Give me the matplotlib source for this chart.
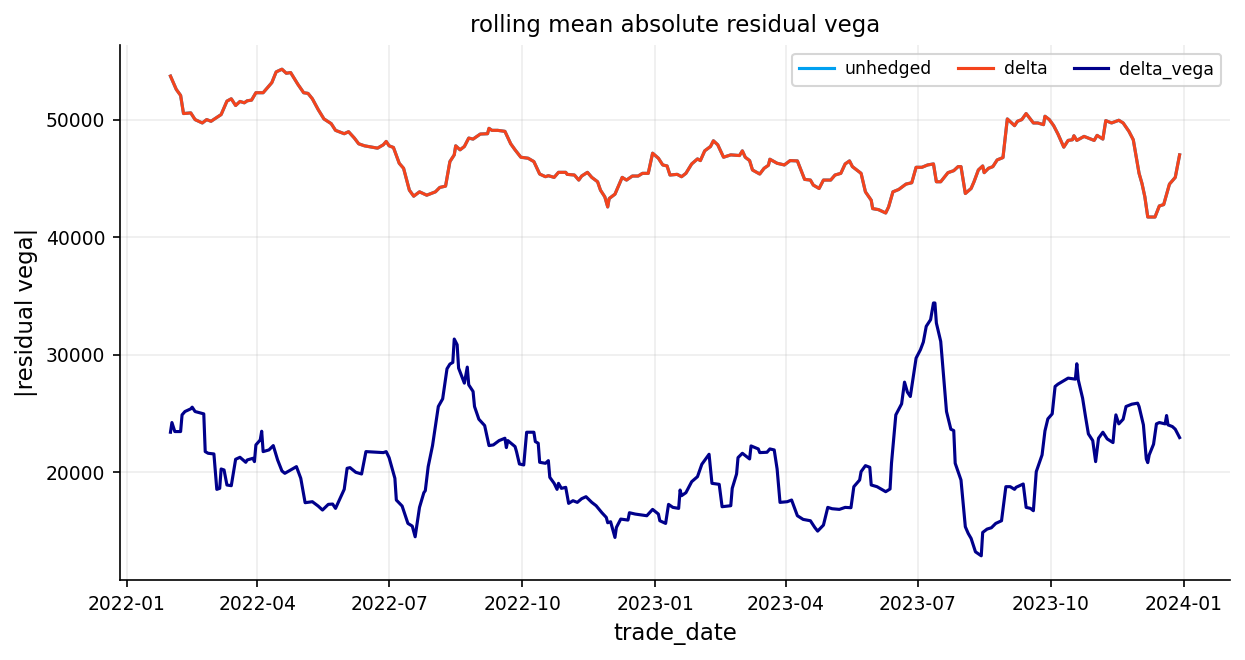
import matplotlib
matplotlib.use("Agg")
import matplotlib.pyplot as plt
import pandas as pd

# residual vega, delta hedged (unhedged sits under it, same values)
delta_dates = ["2022-01-31","2022-02-04","2022-02-07","2022-02-09","2022-02-14","2022-02-17","2022-02-22","2022-02-25",
	"2022-02-28","2022-03-07","2022-03-11","2022-03-14","2022-03-17","2022-03-20","2022-03-23","2022-03-25","2022-03-28",
	"2022-03-31","2022-04-05","2022-04-11","2022-04-14","2022-04-18","2022-04-21","2022-04-24","2022-04-29","2022-05-03",
	"2022-05-06","2022-05-09","2022-05-13","2022-05-17","2022-05-22","2022-05-25","2022-05-31","2022-06-03","2022-06-07",
	"2022-06-10","2022-06-14","2022-06-23","2022-06-27","2022-06-29","2022-07-01","2022-07-04","2022-07-08","2022-07-11",
	"2022-07-15","2022-07-18","2022-07-22","2022-07-27","2022-08-02","2022-08-05","2022-08-09","2022-08-12","2022-08-15",
	"2022-08-16","2022-08-19","2022-08-22","2022-08-25","2022-08-28","2022-09-02","2022-09-07","2022-09-08","2022-09-10",
	"2022-09-14","2022-09-19","2022-09-23","2022-09-26","2022-09-30","2022-10-05","2022-10-09","2022-10-13","2022-10-17",
	"2022-10-19","2022-10-23","2022-10-26","2022-10-31","2022-11-01","2022-11-06","2022-11-09","2022-11-11","2022-11-15",
	"2022-11-18","2022-11-22","2022-11-24","2022-11-27","2022-11-29","2022-11-30","2022-12-04","2022-12-09","2022-12-12",
	"2022-12-16","2022-12-20","2022-12-23","2022-12-27","2022-12-30","2023-01-03","2023-01-06","2023-01-09","2023-01-11",
	"2023-01-16","2023-01-19","2023-01-22","2023-01-26","2023-01-30","2023-02-01","2023-02-04","2023-02-08","2023-02-10",
	"2023-02-13","2023-02-17","2023-02-22","2023-02-28","2023-03-02","2023-03-04","2023-03-07","2023-03-09","2023-03-14",
	"2023-03-17","2023-03-20","2023-03-21","2023-03-26","2023-03-31","2023-04-04","2023-04-09","2023-04-14","2023-04-18",
	"2023-04-20","2023-04-24","2023-04-27","2023-05-02","2023-05-05","2023-05-09","2023-05-12","2023-05-15","2023-05-17",
	"2023-05-23","2023-05-26","2023-05-30","2023-05-31","2023-06-04","2023-06-09","2023-06-11","2023-06-14","2023-06-18",
	"2023-06-23","2023-06-27","2023-06-30","2023-07-04","2023-07-08","2023-07-12","2023-07-14","2023-07-17","2023-07-22",
	"2023-07-26","2023-07-29","2023-07-31","2023-08-03","2023-08-07","2023-08-09","2023-08-12","2023-08-15","2023-08-16",
	"2023-08-19","2023-08-22","2023-08-25","2023-08-29","2023-09-01","2023-09-06","2023-09-08","2023-09-11","2023-09-14",
	"2023-09-19","2023-09-22","2023-09-26","2023-09-27","2023-09-30","2023-10-03","2023-10-06","2023-10-10","2023-10-13",
	"2023-10-16","2023-10-17","2023-10-19","2023-10-24","2023-10-31","2023-11-02","2023-11-06","2023-11-08","2023-11-12",
	"2023-11-17","2023-11-20","2023-11-24","2023-11-27","2023-11-29","2023-12-01","2023-12-03","2023-12-05","2023-12-07",
	"2023-12-12","2023-12-15","2023-12-18","2023-12-22","2023-12-26","2023-12-29"]
delta_vals = [53700,52571,52057,50514,50571,50000,49714,50000,
	49857,50429,51571,51771,51200,51543,51429,51600,51657,
	52286,52286,53143,54057,54286,53943,54000,53000,52286,
	52229,51771,50857,50057,49657,49086,48800,48971,48429,
	47943,47771,47571,47857,48143,47771,47629,46286,45857,
	44000,43486,43857,43571,43857,44229,44343,46429,47000,
	47771,47429,47714,48429,48343,48771,48800,49257,49086,
	49086,49000,47943,47429,46800,46714,46429,45371,45143,
	45229,45086,45514,45514,45343,45286,44857,45200,45514,
	45086,44714,44000,43429,42571,43286,43657,45086,44857,
	45200,45200,45429,45429,47143,46714,46143,46057,45286,
	45343,45143,45429,46229,46657,46514,47343,47714,48200,
	47857,46800,47000,46943,47343,46800,46514,45714,45371,
	45857,46114,46629,46286,46143,46514,46486,44914,44857,
	44429,44143,44857,44857,45286,45429,46229,46486,46000,
	45429,43857,43143,42429,42343,42057,42571,43857,44057,
	44514,44629,45943,45943,46143,46229,44714,44714,45486,
	45657,46000,46000,43714,44143,44714,45714,46057,45486,
	45857,46000,46571,46771,50057,49486,49857,50000,50514,
	49714,49714,49571,50286,50000,49486,48771,47657,48229,
	48286,48629,48229,48571,48229,48657,48343,49914,49714,
	49943,49714,49000,48286,46857,45429,44571,43429,41714,
	41714,42657,42771,44514,45086,47000]

vega_dates = ["2022-01-31","2022-02-01","2022-02-03","2022-02-07","2022-02-08","2022-02-10","2022-02-14","2022-02-15",
	"2022-02-17","2022-02-23","2022-02-24","2022-02-26","2022-03-02","2022-03-04","2022-03-06","2022-03-07","2022-03-09",
	"2022-03-11","2022-03-14","2022-03-17","2022-03-20","2022-03-24","2022-03-25","2022-03-29","2022-03-30","2022-03-31",
	"2022-04-03","2022-04-04","2022-04-05","2022-04-09","2022-04-12","2022-04-15","2022-04-18","2022-04-20","2022-04-24",
	"2022-04-28","2022-05-01","2022-05-04","2022-05-09","2022-05-13","2022-05-16","2022-05-20","2022-05-23","2022-05-25",
	"2022-05-31","2022-06-02","2022-06-04","2022-06-08","2022-06-12","2022-06-15","2022-06-23","2022-06-27","2022-06-29",
	"2022-07-01","2022-07-05","2022-07-06","2022-07-10","2022-07-14","2022-07-17","2022-07-19","2022-07-22","2022-07-25",
	"2022-07-26","2022-07-28","2022-07-31","2022-08-04","2022-08-07","2022-08-10","2022-08-12","2022-08-14","2022-08-15",
	"2022-08-17","2022-08-18","2022-08-22","2022-08-24","2022-08-25","2022-08-28","2022-08-29","2022-09-01","2022-09-05",
	"2022-09-08","2022-09-11","2022-09-15","2022-09-19","2022-09-20","2022-09-21","2022-09-26","2022-09-27","2022-09-29",
	"2022-10-02","2022-10-04","2022-10-09","2022-10-10","2022-10-12","2022-10-13","2022-10-17","2022-10-19","2022-10-20",
	"2022-10-23","2022-10-25","2022-10-26","2022-10-28","2022-10-31","2022-11-02","2022-11-05","2022-11-08","2022-11-11",
	"2022-11-14","2022-11-18","2022-11-21","2022-11-25","2022-11-28","2022-11-29","2022-12-01","2022-12-04","2022-12-05",
	"2022-12-08","2022-12-13","2022-12-14","2022-12-18","2022-12-26","2022-12-30","2023-01-03","2023-01-04","2023-01-08",
	"2023-01-10","2023-01-13","2023-01-17","2023-01-18","2023-01-19","2023-01-22","2023-01-26","2023-01-30","2023-02-02",
	"2023-02-07","2023-02-09","2023-02-14","2023-02-16","2023-02-22","2023-02-23","2023-02-26","2023-02-27","2023-03-02",
	"2023-03-07","2023-03-08","2023-03-13","2023-03-14","2023-03-19","2023-03-21","2023-03-24","2023-03-26","2023-03-28",
	"2023-04-02","2023-04-05","2023-04-09","2023-04-13","2023-04-18","2023-04-21","2023-04-23","2023-04-27","2023-04-30",
	"2023-05-03","2023-05-08","2023-05-12","2023-05-16","2023-05-18","2023-05-22","2023-05-23","2023-05-26","2023-05-29",
	"2023-05-30","2023-06-03","2023-06-09","2023-06-12","2023-06-13","2023-06-16","2023-06-20","2023-06-22","2023-06-24",
	"2023-06-26","2023-06-30","2023-07-03","2023-07-05","2023-07-07","2023-07-10","2023-07-12","2023-07-13","2023-07-14",
	"2023-07-17","2023-07-19","2023-07-21","2023-07-24","2023-07-26","2023-07-27","2023-07-31","2023-08-03","2023-08-05",
	"2023-08-07","2023-08-10","2023-08-14","2023-08-15","2023-08-18","2023-08-21","2023-08-24","2023-08-28","2023-08-31",
	"2023-09-03","2023-09-06","2023-09-07","2023-09-12","2023-09-14","2023-09-17","2023-09-19","2023-09-21","2023-09-25",
	"2023-09-27","2023-09-29","2023-10-02","2023-10-04","2023-10-06","2023-10-11","2023-10-13","2023-10-18","2023-10-19",
	"2023-10-20","2023-10-23","2023-10-25","2023-10-27","2023-10-30","2023-11-01","2023-11-03","2023-11-06","2023-11-09",
	"2023-11-13","2023-11-14","2023-11-15","2023-11-17","2023-11-20","2023-11-22","2023-11-26","2023-11-30","2023-12-01",
	"2023-12-04","2023-12-06","2023-12-07","2023-12-08","2023-12-11","2023-12-13","2023-12-15","2023-12-19","2023-12-20",
	"2023-12-21","2023-12-24","2023-12-26","2023-12-29"]
vega_vals = [23409,24233,23466,23466,24886,25170,25398,25540,
	25170,24971,21761,21619,21562,18551,18636,20284,20199,
	18920,18863,21108,21278,20852,21051,21193,20909,22330,
	22756,23494,21761,21903,22273,21051,20114,19915,20199,
	20483,19488,17415,17500,17131,16790,17273,17301,16932,
	18551,20341,20398,20000,19858,21761,21705,21676,21761,
	21250,19489,17642,17131,15653,15426,14517,17017,18267,
	18437,20483,22273,25597,26250,28807,29205,29347,31335,
	30852,28864,27585,28949,27443,26875,25596,24517,23977,
	22273,22330,22699,22898,22102,22699,22188,21761,20710,
	20625,23409,23409,22614,22471,20852,20767,20994,19574,
	19062,18551,19062,18636,18721,17358,17585,17443,17756,
	17926,17443,17159,16562,16165,15710,15795,14460,15312,
	16023,15937,16562,16449,16307,16847,16449,15881,15653,
	17273,17017,16932,18494,18011,18267,19204,19630,20682,
	21534,19062,18977,17074,17159,18636,19858,21250,21619,
	21136,22244,21988,21676,21705,21988,21903,20284,17443,
	17500,17642,16307,15994,15880,15312,15000,15511,17017,
	16903,16847,17017,16988,18778,19347,20057,20568,20426,
	18920,18778,18352,18580,20767,24886,25824,27670,26818,
	26449,29716,30426,31080,32415,32983,34403,34403,32699,
	31136,28154,25170,23665,23551,20767,19346,15369,14800,
	14375,13238,12898,14886,15170,15284,15653,15880,18778,
	18778,18551,18722,19006,17017,16932,16733,20057,21477,
	23522,24545,24971,27301,27500,27869,28011,27926,29233,
	27869,26307,24744,23267,22699,20909,22898,23409,22841,
	22528,23892,24886,24119,24517,25597,25795,25881,25597,
	24034,21136,20824,21477,22387,24119,24233,24119,24829,
	24034,23892,23665,22954]

delta_x = pd.to_datetime(delta_dates)
vega_x = pd.to_datetime(vega_dates)

fig, ax = plt.subplots(figsize=(8.3, 4.4), dpi=150)
fig.subplots_adjust(left=0.0964, right=0.988, top=0.932, bottom=0.121)

ax.plot(delta_x, delta_vals, color="#00a0f0", lw=1.5, label="unhedged")
ax.plot(delta_x, delta_vals, color="#f4431c", lw=1.5, label="delta")
ax.plot(vega_x, vega_vals, color="#00008b", lw=1.5, label="delta_vega")

ax.set_title("rolling mean absolute residual vega", fontsize=11)
ax.set_xlabel("trade_date", fontsize=11)
ax.set_ylabel("|residual vega|", fontsize=11)
ax.tick_params(labelsize=9)
ax.grid(True, alpha=0.22)
ax.spines["top"].set_visible(False)
ax.spines["right"].set_visible(False)
ax.legend(loc="upper right", ncol=3, fontsize=8.3, columnspacing=1.5, handletextpad=0.65)

fig.savefig("out.png", dpi=150)
